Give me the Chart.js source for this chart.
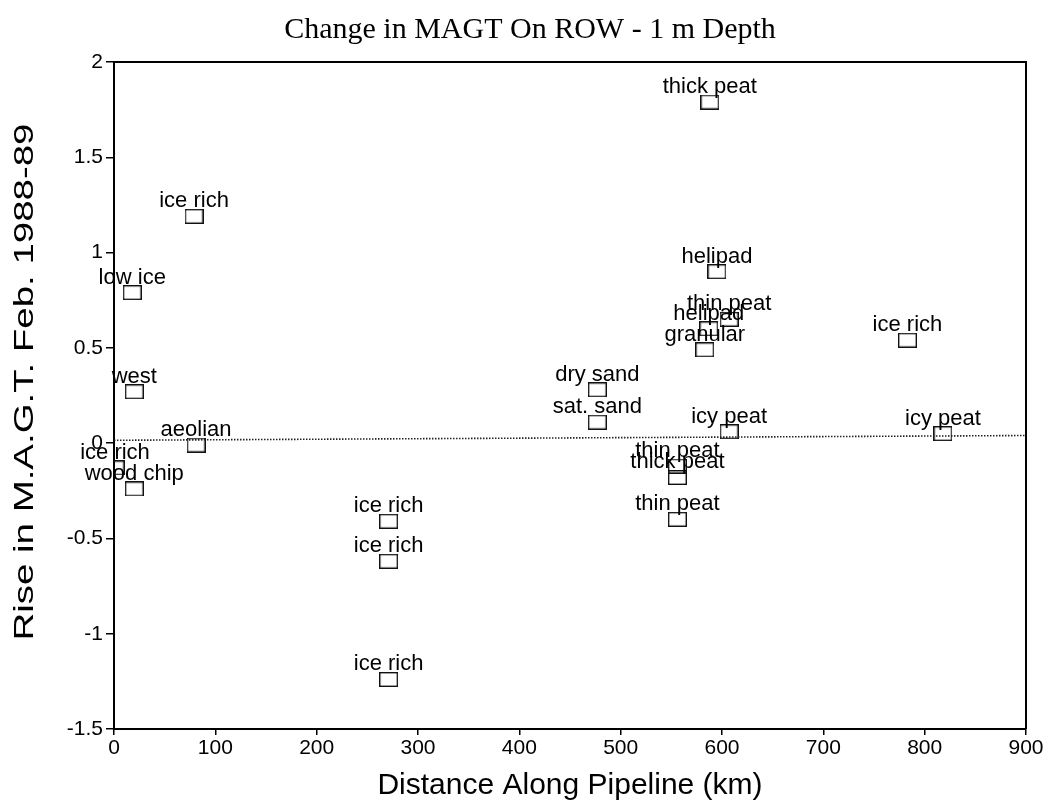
<!DOCTYPE html>
<html><head><meta charset="utf-8">
<script src="https://cdn.jsdelivr.net/npm/chart.js@4"></script>
<style>html,body{margin:0;padding:0;background:#fff}#wrap{width:1052px;height:802px;position:relative}</style>
</head><body><div id="wrap"><canvas id="c"></canvas></div>
<script>
// ---- data ----
const siteLabels = ["thick peat","ice rich","low ice","helipad","thin peat","helipad","granular","ice rich",
  "dry sand","sat. sand","icy peat","icy peat","thin peat","thick peat","thin peat","aeolian","west",
  "ice rich","wood chip","ice rich","ice rich","ice rich"];
const distanceKm = [588, 79, 18, 595, 607, 587, 583, 783, 477, 477, 607, 818, 556, 556, 556, 81, 20, 1, 20, 271, 271, 271];
const riseMAGT   = [1.79, 1.19, 0.79, 0.90, 0.65, 0.60, 0.49, 0.54, 0.28, 0.11, 0.06, 0.05, -0.12, -0.18, -0.40, -0.01, 0.27, -0.13, -0.24, -0.41, -0.62, -1.24];
const refLineX = [0, 900];
const refLineY = [0.015, 0.04];
const xTicks = [0,100,200,300,400,500,600,700,800,900];
const yTicks = [-1.5,-1,-0.5,0,0.5,1,1.5,2];
const titleText = "Change in MAGT On ROW - 1 m Depth";
const xTitle = "Distance Along Pipeline (km)";
const yTitle = "Rise in M.A.G.T. Feb. 1988-89";

// square marker image
const sq = document.createElement('canvas');
sq.width = 19; sq.height = 15;
(function(){const g = sq.getContext('2d'); g.strokeStyle='#111'; g.lineWidth=1.4; g.strokeRect(0.7,0.7,17.6,13.6);})();

const SANS = "'Liberation Sans', Arial, sans-serif";
const SERIF = "'Liberation Serif', 'Times New Roman', serif";

const decor = {
  id: 'decor',
  afterDatasetsDraw(chart) {
    const ctx = chart.ctx, a = chart.chartArea;
    ctx.save();
    // frame top and right
    ctx.strokeStyle = '#000'; ctx.lineWidth = 2;
    ctx.beginPath();
    ctx.moveTo(a.left, a.top); ctx.lineTo(a.right, a.top); ctx.lineTo(a.right, a.bottom);
    ctx.stroke();
    // point labels
    const meta = chart.getDatasetMeta(1);
    ctx.fillStyle = '#000';
    ctx.font = "22px " + SANS;
    ctx.textAlign = 'center'; ctx.textBaseline = 'alphabetic';
    meta.data.forEach((el, i) => { ctx.fillText(siteLabels[i], el.x, el.y - 9); });
    // title
    ctx.font = "30px " + SERIF;
    ctx.fillText(titleText, 530, 38);
    // x title
    ctx.font = "30px " + SANS;
    ctx.fillText(xTitle, (a.left + a.right) / 2, 794);
    // y title (stretched along its length as in the scan)
    ctx.font = "27px " + SANS;
    const w = ctx.measureText(yTitle).width;
    ctx.translate(33, 382);
    ctx.rotate(-Math.PI / 2);
    ctx.scale(517 / w, 1);
    ctx.fillText(yTitle, 0, 0);
    ctx.restore();
  }
};

new Chart(document.getElementById('c'), {
  data: {
    datasets: [
      { type: 'line', data: refLineX.map((x, i) => ({x, y: refLineY[i]})), borderColor: '#222',
        borderWidth: 1.6, borderDash: [1.5, 1.5], pointRadius: 0, fill: false },
      { type: 'scatter', data: distanceKm.map((x, i) => ({x, y: riseMAGT[i]})), pointStyle: sq,
        pointRadius: 8, pointHoverRadius: 8 }
    ]
  },
  options: {
    responsive: true, maintainAspectRatio: false, animation: false,
    layout: { padding: { left: 0, right: 26, top: 62, bottom: 0 } },
    plugins: { legend: { display: false }, title: { display: false }, tooltip: { enabled: false } },
    scales: {
      x: {
        type: 'linear', min: 0, max: 900,
        afterBuildTicks: s => { s.ticks = xTicks.map(v => ({ value: v })); },
        afterFit: s => { s.height = 73; },
        ticks: { color: '#000', font: { family: SANS, size: 21 }, padding: 1, maxRotation: 0,
                 callback: v => String(v) },
        grid: { drawOnChartArea: false, drawTicks: true, tickLength: 6, color: '#000', lineWidth: 1.5 },
        border: { display: true, color: '#000', width: 2 }
      },
      y: {
        type: 'linear', min: -1.5, max: 2,
        afterBuildTicks: s => { s.ticks = yTicks.map(v => ({ value: v })); },
        afterFit: s => { s.width = 114; },
        ticks: { color: '#000', font: { family: SANS, size: 21 }, padding: 3,
                 callback: v => String(v) },
        grid: { drawOnChartArea: false, drawTicks: true, tickLength: 8, color: '#000', lineWidth: 1.5 },
        border: { display: true, color: '#000', width: 2 }
      }
    }
  },
  plugins: [decor]
});
</script>
</body></html>
